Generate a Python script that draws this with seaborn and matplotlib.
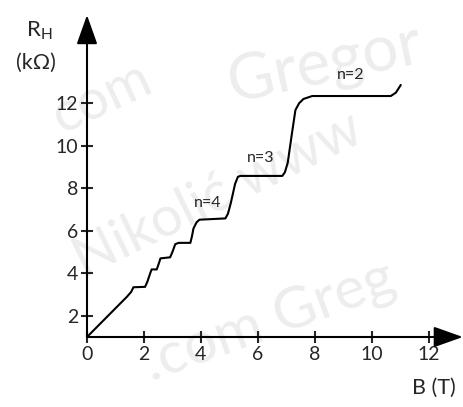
import seaborn as sns
import matplotlib.pyplot as plt
import pandas as pd

# ----------------------------------------------------------
# Hall resistance vs magnetic field (quantum Hall plateaus)
# ----------------------------------------------------------

b_field = [0.0, 1.40, 1.55, 1.63, 2.04, 2.12, 2.22, 2.27, 2.45, 2.52, 2.58,
           2.92, 3.00, 3.10, 3.22, 3.63, 3.68, 3.74, 3.85, 3.95, 4.86,
           4.95, 5.05, 5.20, 5.30, 5.39, 6.86, 6.95, 7.05, 7.20, 7.32,
           7.45, 7.60, 7.91, 10.67, 10.85, 11.02]
r_hall = [1.0, 2.89, 3.12, 3.34, 3.36, 3.60, 4.00, 4.18, 4.18, 4.45, 4.70,
          4.75, 5.00, 5.37, 5.43, 5.43, 5.70, 6.11, 6.40, 6.52, 6.58,
          6.80, 7.30, 8.20, 8.54, 8.58, 8.58, 8.75, 9.20, 10.60, 11.68,
          12.00, 12.20, 12.34, 12.34, 12.50, 12.86]

plateau_labels = ["n=4", "n=3", "n=2"]
label_x = [4.25, 6.10, 9.25]
label_y = [6.97, 9.10, 12.98]

x_ticks = [0, 2, 4, 6, 8, 10, 12]
y_ticks = [2, 4, 6, 8, 10, 12]

df = pd.DataFrame({"B": b_field, "R": r_hall})

sns.set_style("white")
plt.rcParams['font.family'] = ['Lato', 'DejaVu Sans']

fig = plt.figure(figsize=(4.64, 4.07), dpi=100)
ax = fig.add_axes([0.1875, 0.172, 0.81, 0.791])
ax.patch.set_alpha(0)

# faint watermark, kept behind everything and inside the canvas
wm = dict(color="#ededed", zorder=-5, ha="center", va="center",
          transform=fig.transFigure)
fig.text(0.70, 0.84, "Gregor", rotation=12, fontsize=46, **wm)
fig.text(0.47, 0.52, "Nikolić www", rotation=26, fontsize=40, **wm)
fig.text(0.58, 0.21, ".com Greg", rotation=20, fontsize=42, **wm)
fig.text(0.22, 0.76, "com", rotation=25, fontsize=40, **wm)

sns.lineplot(data=df, x="B", y="R", sort=False, estimator=None,
             color="black", linewidth=1.5, ax=ax, zorder=3)

for txt, lx, ly in zip(plateau_labels, label_x, label_y):
    ax.text(lx, ly, txt, fontsize=11.5, ha="center", va="bottom")

ax.set_xlim(0, 13.2)
ax.set_ylim(1.0, 16.15)
for s in ax.spines.values():
    s.set_visible(False)

arrow = dict(arrowstyle="-|>,head_length=0.9,head_width=0.32", lw=1.5,
             color="black", mutation_scale=20, shrinkA=0, shrinkB=0)
ax.annotate("", xy=(13.2, 1.0), xytext=(0, 1.0), arrowprops=arrow,
            annotation_clip=False)
ax.annotate("", xy=(0, 16.15), xytext=(0, 1.0), arrowprops=arrow,
            annotation_clip=False)

ax.set_xticks(x_ticks)
ax.set_yticks(y_ticks)
ax.tick_params(direction="inout", length=9, width=1.5, labelsize=14,
               bottom=True, left=True, pad=2)
ax.set_xlabel("")
ax.set_ylabel("")

fig.text(0.935, 0.022, "B (T)", fontsize=15.5, ha="center", va="bottom")
fig.text(0.085, 0.925, "R$_\\mathregular{H}$", fontsize=16, ha="center", va="center")
fig.text(0.077, 0.845, "(kΩ)", fontsize=15.5, ha="center", va="center")

fig.savefig("out.png", dpi=100)
